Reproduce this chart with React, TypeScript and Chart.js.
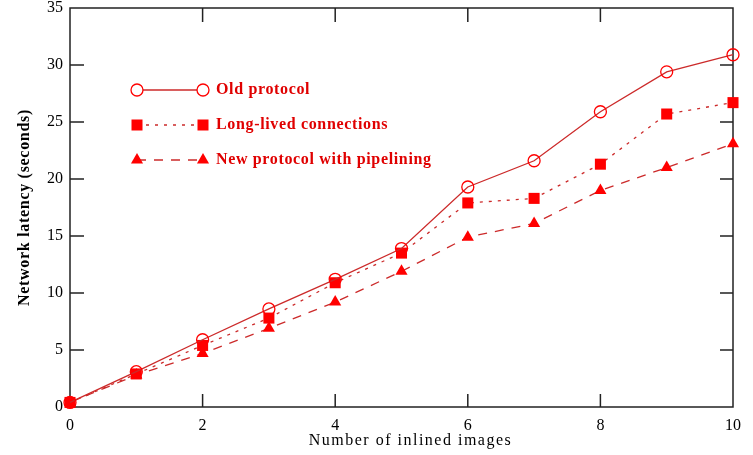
import { useEffect, useRef } from 'react';
import { Chart, registerables } from 'chart.js';

Chart.register(...registerables);

const images = [0, 1, 2, 3, 4, 5, 6, 7, 8, 9, 10];
const oldProtocol = [0.4, 3.1, 5.9, 8.6, 11.2, 13.9, 19.3, 21.6, 25.9, 29.4, 30.9];
const longLived = [0.4, 2.9, 5.4, 7.8, 10.9, 13.5, 17.9, 18.3, 21.3, 25.7, 26.7];
const pipelining = [0.4, 2.8, 4.7, 6.9, 9.2, 11.9, 14.9, 16.1, 19.0, 21.0, 23.1];
const seriesNames = ['Old protocol', 'Long-lived connections', 'New protocol with pipelining'];
const xTicks = [0, 2, 4, 6, 8, 10];
const yTicks = [0, 5, 10, 15, 20, 25, 30, 35];
const xTitle = 'Number of inlined images';
const yTitle = 'Network latency (seconds)';

const FONT = '"Liberation Serif", "DejaVu Serif", serif';
const LINE = '#cc2a2a';
const MARK = '#ff0000';

function drawMarker(ctx: CanvasRenderingContext2D, style: string, x: number, y: number) {
  ctx.save();
  ctx.setLineDash([]);
  ctx.fillStyle = MARK;
  ctx.strokeStyle = MARK;
  ctx.lineWidth = 1.3;
  if (style === 'circle') {
    ctx.beginPath();
    ctx.arc(x, y, 6, 0, Math.PI * 2);
    ctx.fillStyle = '#fff';
    ctx.fill();
    ctx.stroke();
  } else if (style === 'rect') {
    ctx.fillRect(x - 5.5, y - 5.5, 11, 11);
  } else {
    const r = 7;
    ctx.beginPath();
    ctx.moveTo(x, y - r);
    ctx.lineTo(x + r * 0.866, y + r / 2);
    ctx.lineTo(x - r * 0.866, y + r / 2);
    ctx.closePath();
    ctx.fill();
  }
  ctx.restore();
}

const framePlugin = {
  id: 'frame',
  beforeDatasetsDraw(chart: any) {
    const { ctx, chartArea: a, scales } = chart;
    const x = scales.x;
    const y = scales.y;
    ctx.save();
    ctx.strokeStyle = '#222';
    ctx.lineWidth = 1.5;
    ctx.strokeRect(a.left, a.top, a.right - a.left, a.bottom - a.top);
    ctx.beginPath();
    xTicks.forEach((v) => {
      if (v <= xTicks[0] || v >= xTicks[xTicks.length - 1]) return;
      const px = x.getPixelForValue(v);
      ctx.moveTo(px, a.bottom);
      ctx.lineTo(px, a.bottom - 13);
      ctx.moveTo(px, a.top);
      ctx.lineTo(px, a.top + 14);
    });
    yTicks.forEach((v) => {
      if (v <= yTicks[0] || v >= yTicks[yTicks.length - 1]) return;
      const py = y.getPixelForValue(v);
      ctx.moveTo(a.left, py);
      ctx.lineTo(a.left + 14, py);
      ctx.moveTo(a.right, py);
      ctx.lineTo(a.right - 13, py);
    });
    ctx.stroke();
    ctx.restore();
  },
};

const titlesPlugin = {
  id: 'axisTitles',
  afterDraw(chart: any) {
    const { ctx, chartArea: a } = chart;
    ctx.save();
    ctx.fillStyle = '#000';
    ctx.textAlign = 'center';
    ctx.textBaseline = 'middle';
    (ctx as any).letterSpacing = '1.5px';
    ctx.font = `16px ${FONT}`;
    ctx.fillText(xTitle, (a.left + a.right) / 2 + 9, a.bottom + 34);
    ctx.restore();

    ctx.save();
    ctx.fillStyle = '#000';
    ctx.textAlign = 'center';
    ctx.textBaseline = 'middle';
    (ctx as any).letterSpacing = '0.7px';
    ctx.font = `bold 16px ${FONT}`;
    ctx.translate(a.left - 45, (a.top + a.bottom) / 2);
    ctx.rotate(-Math.PI / 2);
    ctx.fillText(yTitle, 0, 0);
    ctx.restore();
  },
};

const legendPlugin = {
  id: 'insideLegend',
  afterDraw(chart: any) {
    const { ctx, chartArea: a } = chart;
    chart.data.datasets.forEach((ds: any, i: number) => {
      const yy = a.top + 82 + i * 35;
      const x1 = a.left + 67;
      const x2 = a.left + 133;
      ctx.save();
      ctx.strokeStyle = ds.borderColor;
      ctx.lineWidth = ds.borderWidth;
      ctx.setLineDash(ds.borderDash || []);
      ctx.beginPath();
      ctx.moveTo(x1, yy);
      ctx.lineTo(x2, yy);
      ctx.stroke();
      ctx.restore();
      drawMarker(ctx, ds.pointStyle, x1, yy);
      drawMarker(ctx, ds.pointStyle, x2, yy);
      ctx.save();
      ctx.fillStyle = '#e00000';
      (ctx as any).letterSpacing = '0.65px';
      ctx.font = `bold 16px ${FONT}`;
      ctx.textBaseline = 'middle';
      ctx.fillText(ds.label, a.left + 146, yy);
      ctx.restore();
    });
  },
};

export default function App() {
  const ref = useRef<HTMLCanvasElement | null>(null);

  useEffect(() => {
    document.body.style.margin = '0';
    if (!ref.current) return;
    const mk = (vals: number[]) => images.map((x, i) => ({ x, y: vals[i] }));
    const chart = new Chart(ref.current, {
      type: 'line',
      data: {
        datasets: [
          {
            label: seriesNames[0],
            data: mk(oldProtocol),
            borderColor: LINE,
            borderWidth: 1.3,
            pointStyle: 'circle',
            pointRadius: 6,
            pointBorderWidth: 1.3,
            pointBackgroundColor: 'rgba(255,255,255,0)',
            pointBorderColor: MARK,
            clip: false as any,
          },
          {
            label: seriesNames[1],
            data: mk(longLived),
            borderColor: LINE,
            borderWidth: 1.3,
            borderDash: [3, 6],
            pointStyle: 'rect',
            pointRadius: 7.8,
            pointBorderWidth: 0,
            pointBackgroundColor: MARK,
            pointBorderColor: MARK,
            clip: false as any,
          },
          {
            label: seriesNames[2],
            data: mk(pipelining),
            borderColor: LINE,
            borderWidth: 1.3,
            borderDash: [9, 8],
            pointStyle: 'triangle',
            pointRadius: 7,
            pointBorderWidth: 0,
            pointBackgroundColor: MARK,
            pointBorderColor: MARK,
            clip: false as any,
          },
        ],
      },
      options: {
        animation: false,
        responsive: true,
        maintainAspectRatio: false,
        layout: { padding: { top: 8, right: 20, left: 0, bottom: 0 } },
        plugins: { legend: { display: false }, tooltip: { enabled: false } },
        scales: {
          x: {
            type: 'linear',
            min: 0,
            max: 10,
            afterBuildTicks: (s: any) => {
              s.ticks = xTicks.map((v) => ({ value: v }));
            },
            afterFit: (s: any) => {
              s.height = 48;
              s.paddingLeft = 0;
              s.paddingRight = 0;
            },
            ticks: { color: '#000', font: { family: FONT, size: 16 }, padding: 9, maxRotation: 0 },
            grid: { display: false, drawTicks: false },
            border: { display: false },
          },
          y: {
            type: 'linear',
            min: 0,
            max: 35,
            afterBuildTicks: (s: any) => {
              s.ticks = yTicks.map((v) => ({ value: v }));
            },
            afterFit: (s: any) => {
              s.width = 70;
              s.paddingTop = 0;
              s.paddingBottom = 0;
            },
            ticks: { color: '#000', font: { family: FONT, size: 16 }, padding: 7 },
            grid: { display: false, drawTicks: false },
            border: { display: false },
          },
        },
      },
      plugins: [framePlugin, legendPlugin, titlesPlugin],
    });
    return () => chart.destroy();
  }, []);

  return (
    <div style={{ position: 'relative', width: 753, height: 455 }}>
      <canvas ref={ref} />
    </div>
  );
}
